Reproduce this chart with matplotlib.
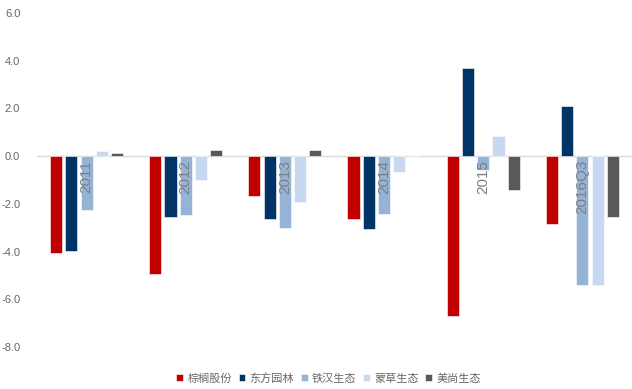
import numpy as np
import matplotlib
matplotlib.use("Agg")
import matplotlib.pyplot as plt

plt.rcParams['font.family'] = ['Liberation Sans', 'Noto Sans CJK SC', 'DejaVu Sans']

# ============================================
# Data
# ============================================

periods = ["2011", "2012", "2013", "2014", "2015", "2016Q3"]
companies = ["棕榈股份", "东方园林", "铁汉生态", "蒙草生态", "美尚生态"]

zonglv = [-4.08, -4.92, -1.67, -2.65, -6.69, -2.83]
dongfang = [-3.98, -2.54, -2.65, -3.06, 3.68, 2.11]
tiehan = [-2.25, -2.46, -3.03, -2.43, -0.58, -5.42]
mengcao = [0.22, -1.00, -1.94, -0.66, 0.85, -5.42]
meishang = [0.12, 0.26, 0.26, 0.0, -1.42, -2.54]

series = [zonglv, dongfang, tiehan, mengcao, meishang]
colors = ["#C00000", "#003366", "#95B3D7", "#C6D9F1", "#595959"]

# ============================================
# Chart
# ============================================

fig = plt.figure(figsize=(6.32, 3.89), dpi=100)
ax = fig.add_axes([0.0585, 0.108, 0.9415, 0.8586])

x = np.arange(len(periods))
slot = 0.154
width = 0.122

for i, (vals, name, c) in enumerate(zip(series, companies, colors)):
    ax.bar(x + (i - 2) * slot, vals, width, color=c, label=name,
           edgecolor="white", linewidth=0.4)

ax.axhline(0, color="#D9D9D9", linewidth=1, zorder=0)

for xi, lab in zip(x, periods):
    ax.text(xi, -0.15, lab, rotation=90, ha="center", va="top",
            fontsize=11, color="#7F7F7F")

ax.set_xlim(-0.5, len(periods) - 0.5)
ax.set_ylim(-8, 6)
ax.set_yticks(np.arange(-8, 7, 2))
ax.set_yticklabels([f"{v:.1f}" for v in np.arange(-8, 7, 2)])
ax.set_xticks([])
ax.tick_params(axis="y", length=0, labelsize=8, labelcolor="#666666", pad=12)

for s in ax.spines.values():
    s.set_visible(False)

fig.legend(loc="center", bbox_to_anchor=(0.52, 0.028), ncol=5, frameon=False,
           fontsize=8, handlelength=0.6, handleheight=0.6, handletextpad=0.4,
           columnspacing=0.6, labelcolor="#666666")

fig.savefig("out.png", dpi=100)
